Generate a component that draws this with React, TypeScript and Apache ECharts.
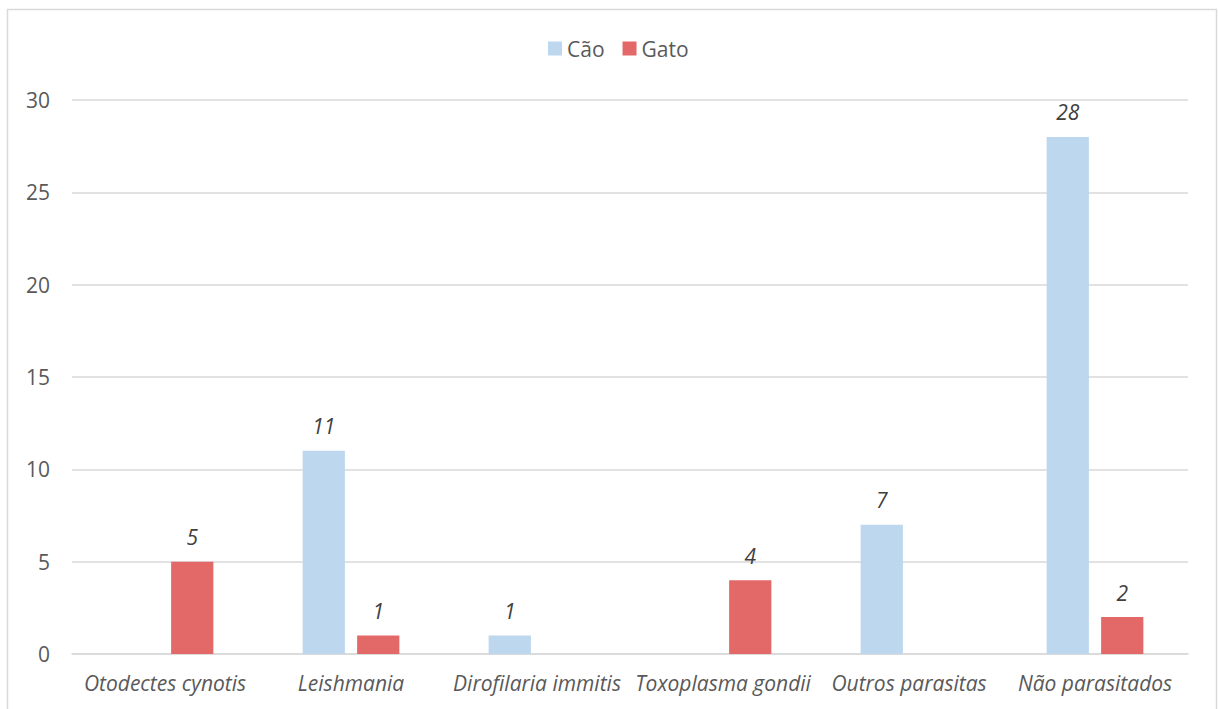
import React, { useEffect, useRef } from "react";
import * as echarts from "echarts";

const categories = [
  "Otodectes cynotis",
  "Leishmania",
  "Dirofilaria immitis",
  "Toxoplasma gondii",
  "Outros parasitas",
  "Não parasitados",
];
const caoValues = [0, 11, 1, 0, 7, 28];
const gatoValues = [5, 1, 0, 4, 0, 2];
const yTicks = { min: 0, max: 30, interval: 5 };

const FONT = "Open Sans";
const FS = 21;

export default function App() {
  const ref = useRef<HTMLDivElement>(null);
  useEffect(() => {
    if (!ref.current) return;
    const chart = echarts.init(ref.current, undefined, { renderer: "svg" });
    const label = {
      show: true,
      position: "top" as const,
      distance: 14,
      fontStyle: "italic" as const,
      fontFamily: FONT,
      fontSize: FS,
      color: "#404040",
      formatter: (p: any) => (p.value === 0 ? "" : String(p.value)),
    };
    chart.setOption({
      animation: false,
      textStyle: { fontFamily: FONT },
      graphic: [
        {
          type: "rect",
          shape: { x: 7.5, y: 9.5, width: 1209, height: 740 },
          style: { fill: "none", stroke: "#d9d9d9", lineWidth: 1.5 },
          silent: true,
        },
      ],
      legend: {
        top: 33,
        left: 543,
        itemWidth: 14,
        itemHeight: 14,
        itemGap: 18,
        icon: "rect",
        textStyle: { fontFamily: FONT, fontSize: FS, color: "#595959" },
        data: ["Cão", "Gato"],
      },
      grid: { left: 72, right: 30, top: 100, bottom: 55, containLabel: false },
      xAxis: {
        type: "category",
        data: categories,
        axisLine: { lineStyle: { color: "#d9d9d9", width: 1.5 } },
        axisTick: { show: false },
        axisLabel: {
          fontStyle: "italic",
          fontFamily: FONT,
          fontSize: FS,
          color: "#595959",
          margin: 18,
          interval: 0,
        },
      },
      yAxis: {
        type: "value",
        min: yTicks.min,
        max: yTicks.max,
        interval: yTicks.interval,
        axisLine: { show: false },
        axisTick: { show: false },
        splitLine: { lineStyle: { color: "#d9d9d9", width: 1.5 } },
        axisLabel: { fontFamily: FONT, fontSize: FS, color: "#595959", margin: 22 },
      },
      series: [
        {
          name: "Cão",
          type: "bar",
          data: caoValues,
          itemStyle: { color: "#bdd7ee" },
          barGap: "29%",
          barCategoryGap: "48%",
          label,
        },
        {
          name: "Gato",
          type: "bar",
          data: gatoValues,
          itemStyle: { color: "#e36868" },
          label,
        },
      ],
    });
    return () => chart.dispose();
  }, []);
  return (
    <div
      ref={ref}
      style={{ position: "absolute", left: 0, top: 0, width: 1218, height: 709, background: "#fff" }}
    />
  );
}
